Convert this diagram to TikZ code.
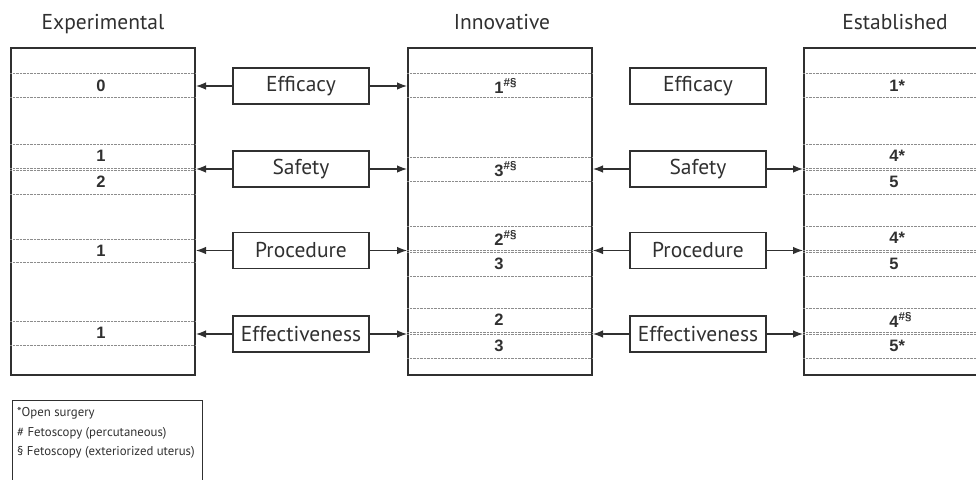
\documentclass[tikz,border=0pt]{standalone}
\usepackage{fontspec}
\setmainfont{PT Sans}
\newfontfamily\numfont{Liberation Sans}
\usetikzlibrary{arrows.meta}

\definecolor{ink}{HTML}{303030}
\definecolor{dots}{HTML}{8C8C8C}

\newcommand{\fetsup}{\rlap{\textsuperscript{\#\S}}}
\newcommand{\opensup}{\rlap{*}}

\tikzset{
  stage/.style={draw=ink, line width=2pt, minimum width=184pt, minimum height=327pt, inner sep=0pt},
  stagename/.style={text=ink, font=\fontsize{21.5}{24}\selectfont, anchor=base, inner sep=0pt},
  crit/.style={draw=ink, line width=1.2pt, minimum width=136pt, minimum height=36pt, inner sep=0pt, text=ink, font=\fontsize{21.5}{24}\selectfont},
  score/.style={text=ink, font=\numfont\bfseries\fontsize{16.5}{18}\selectfont, inner sep=0pt},
  tier/.style={dots, line width=0.7pt, dash pattern=on 0.7pt off 0.7pt},
  legendbox/.style={draw=ink, line width=1pt, minimum width=190pt, minimum height=130pt, inner sep=0pt, anchor=north west},
  legtext/.style={text=ink, font=\fontsize{12.8}{14}\selectfont, inner sep=0pt, anchor=west},
}

\begin{document}
\begin{tikzpicture}[x=1pt, y=-1pt, >={Latex[length=10pt,width=7.5pt]}]
  \useasboundingbox (0,0) rectangle (976,479);
  \clip (0,0) rectangle (976,479);

  % the three stages
  \node[stagename] (expname) at (103,29) {Experimental};
  \node[stagename] (innoname) at (502,29) {Innovative};
  \node[stagename] (estname) at (895,29) {Established};
  \node[stage] (exp) at (103,211.5) {};
  \node[stage] (inno) at (500,211.5) {};
  \node[stage] (est) at (896,211.5) {};

  % rows
  \foreach \y in {73,97,144,168,170,194,239,262,321,345}
    \draw[tier] (exp.west |- 0,\y) -- (exp.east |- 0,\y);
  \foreach \y in {73,97,157,181,226,250,252,276,308,332,334,358}
    \draw[tier] (inno.west |- 0,\y) -- (inno.east |- 0,\y);
  \foreach \y in {73,97,144,168,170,194,226,250,252,276,308,332,334,358}
    \draw[tier] (est.west |- 0,\y) -- (est.east |- 0,\y);

  % counts
  \node[score] (exp1) at (101,86) {0};
  \node[score] (exp2) at (101,156) {1};
  \node[score] (exp3) at (101,182) {2};
  \node[score] (exp4) at (101,251) {1};
  \node[score] (exp5) at (101,333) {1};
  \node[score] (inno1) at (499,86) {1\fetsup};
  \node[score] (inno2) at (499,169) {3\fetsup};
  \node[score] (inno3) at (499,238) {2\fetsup};
  \node[score] (inno4) at (499,264) {3};
  \node[score] (inno5) at (499,320) {2};
  \node[score] (inno6) at (499,346) {3};
  \node[score] (est1) at (894,86) {1\opensup};
  \node[score] (est2) at (894,156) {4\opensup};
  \node[score] (est3) at (894,182) {5};
  \node[score] (est4) at (894,238) {4\opensup};
  \node[score] (est5) at (894,264) {5};
  \node[score] (est6) at (894,320) {4\fetsup};
  \node[score] (est7) at (894,346) {5\opensup};

  % criteria
  \node[crit] (effl) at (301,86) {Efficacy};
  \node[crit] (safl) at (301,169) {Safety};
  \node[crit] (prol) at (301,250.5) {Procedure};
  \node[crit] (eftl) at (301,334) {Effectiveness};
  \node[crit] (effr) at (698,86) {Efficacy};
  \node[crit] (safr) at (698,169) {Safety};
  \node[crit] (pror) at (698,250.5) {Procedure};
  \node[crit] (eftr) at (698,334) {Effectiveness};

  \foreach \n in {effl,safl,prol,eftl} {
    \draw[->, ink, line width=1.2pt] (\n.west) -- (\n -| exp.east);
    \draw[->, ink, line width=1.2pt] (\n.east) -- (\n -| inno.west);
  }
  \foreach \n in {safr,pror,eftr} {
    \draw[->, ink, line width=1.2pt] (\n.west) -- (\n -| inno.east);
    \draw[->, ink, line width=1.2pt] (\n.east) -- (\n -| est.west);
  }

  % legend
  \node[legendbox] (legend) at (12,400) {};
  \node[legtext] (open) at (17,413) {*Open surgery};
  \node[legtext] (perc) at (17,433) {\# Fetoscopy (percutaneous)};
  \node[legtext] (extu) at (17,452) {\S{} Fetoscopy (exteriorized uterus)};
\end{tikzpicture}
\end{document}
